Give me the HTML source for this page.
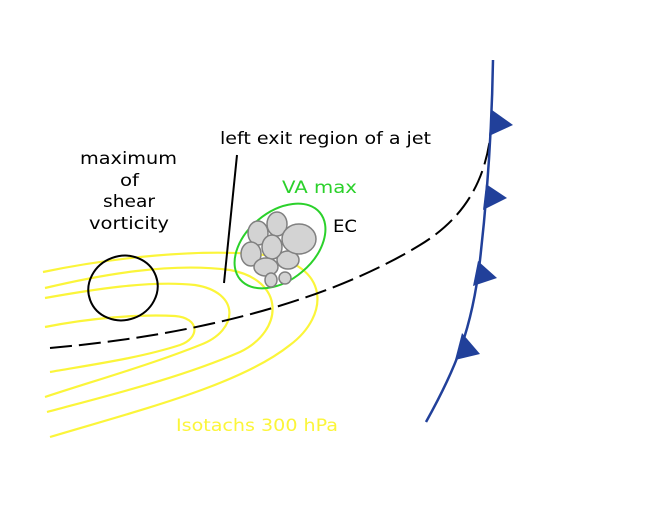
<!DOCTYPE html>
<html><head><style>body{margin:0;background:#fff}svg{display:block}text{font-family:"DejaVu Sans","Liberation Sans",sans-serif}</style></head><body>
<svg width="650" height="524" viewBox="0 0 650 524" xmlns="http://www.w3.org/2000/svg">
<g fill="none" stroke="#fbf53a" stroke-width="2.2">
<path d="M45,327 C90,318 140,314 175,316 C200,318 200,338 180,345 C140,358 90,365 50,372"/>
<path d="M45,298 C90,290 150,280 195,285 C240,292 240,330 200,345 C150,365 90,382 45,397"/>
<path d="M45,288 C100,275 170,262 230,270 C285,280 285,330 240,352 C180,378 110,395 47,412"/>
<path d="M43,272 C110,258 200,248 265,255 C330,265 330,315 290,345 C240,385 140,410 50,437"/>
</g>
<path d="M50,348 C200,335 330,300 420,245 C470,215 492,170 492,108" fill="none" stroke="#000" stroke-width="2" stroke-dasharray="22,7"/>
<ellipse cx="123" cy="288" rx="35" ry="32" fill="none" stroke="#000" stroke-width="2" transform="rotate(-20 123 288)"/>
<line x1="237" y1="155" x2="224" y2="283" stroke="#000" stroke-width="2"/>
<ellipse cx="280" cy="246" rx="52" ry="34" fill="none" stroke="#2bd12b" stroke-width="2" transform="rotate(-40 280 246)"/>
<g fill="#d3d3d3" stroke="#808080" stroke-width="1.5">
<ellipse cx="258" cy="233" rx="10" ry="12"/>
<ellipse cx="277" cy="224" rx="10" ry="12"/>
<ellipse cx="251" cy="254" rx="10" ry="12"/>
<ellipse cx="288" cy="260" rx="11" ry="9"/>
<ellipse cx="272" cy="247" rx="10" ry="12"/>
<ellipse cx="299" cy="239" rx="17" ry="15"/>
<ellipse cx="266" cy="267" rx="12" ry="9"/>
<ellipse cx="271" cy="280" rx="6" ry="7"/>
<ellipse cx="285" cy="278" rx="6" ry="6"/>
</g>
<path d="M493,60 C492,120 488,190 480,260 C472,330 455,370 426,422" fill="none" stroke="#21409a" stroke-width="2.5"/>
<g fill="#21409a">
<polygon points="492,110 489,136 513,125"/>
<polygon points="486,184 483,210 507,198"/>
<polygon points="478,261 473,286 497,278"/>
<polygon points="462,333 455,360 480,354"/>
</g>
<g font-size="17" fill="#000">
<text x="220" y="144" textLength="211" lengthAdjust="spacingAndGlyphs">left exit region of a jet</text>
<text x="80" y="164" textLength="97" lengthAdjust="spacingAndGlyphs">maximum</text>
<text x="120" y="186" textLength="19" lengthAdjust="spacingAndGlyphs">of</text>
<text x="103" y="207" textLength="52" lengthAdjust="spacingAndGlyphs">shear</text>
<text x="89" y="229" textLength="80" lengthAdjust="spacingAndGlyphs">vorticity</text>
<text x="333" y="232" textLength="24" lengthAdjust="spacingAndGlyphs">EC</text>
</g>
<text x="282" y="193" font-size="17" fill="#2bd12b" textLength="75" lengthAdjust="spacingAndGlyphs">VA max</text>
<text x="176" y="431" font-size="17" fill="#fbf53a" textLength="162" lengthAdjust="spacingAndGlyphs">Isotachs 300 hPa</text>
</svg>
</body></html>
